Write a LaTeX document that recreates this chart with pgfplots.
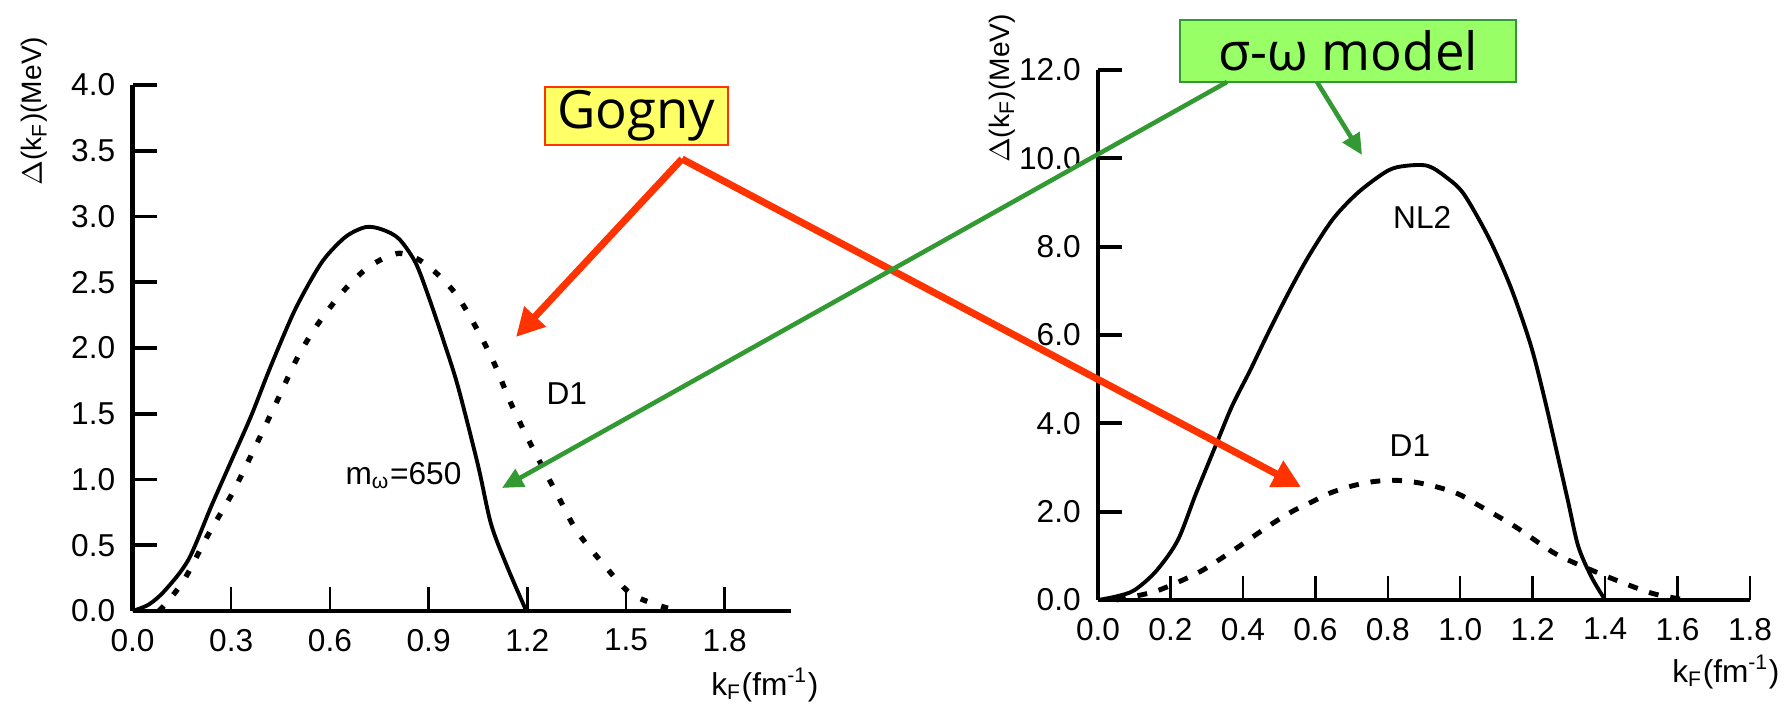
\documentclass[border=0pt]{standalone}
\usepackage{pgfplots}
\pgfplotsset{compat=1.18}
\usepackage{fontspec}
\setmainfont{Liberation Sans}
\newfontfamily\notefont{Open Sans}
\usetikzlibrary{arrows.meta}

\definecolor{arrowred}{RGB}{255,51,0}
\definecolor{boxyellow}{RGB}{255,255,102}
\definecolor{boxgreen}{RGB}{153,255,102}
\definecolor{linegreen}{RGB}{51,153,51}

\pgfplotsset{
  gapaxis/.style={
    scale only axis,
    axis x line=bottom, axis y line=left,
    axis line style={-, line width=1.3pt},
    tick align=inside,
    major tick length=2.4mm,
    xtick style={line width=0.7pt, black},
    ytick style={line width=1.1pt, black},
    ticklabel style={font=\fontsize{9}{10}\selectfont},
    /pgf/number format/fixed,
    /pgf/number format/fixed zerofill,
    /pgf/number format/precision=1,
    /pgf/number format/assume math mode=true,
    xticklabel style={yshift=-1.6pt},
    yticklabel style={xshift=-1.4pt},
    clip=false,
    ymin=0, xmin=0,
    ylabel style={font=\fontsize{8}{9}\selectfont, anchor=center},
    xlabel style={font=\fontsize{9}{10}\selectfont, anchor=center},
    ylabel={$\Delta$(k\textsubscript{F})(MeV)},
    xlabel={k\textsubscript{F}(fm\textsuperscript{-1})},
  },
  solidcurve/.style={black, line width=1.1pt, smooth},
  dotcurve/.style={black, line width=1.5pt, dash pattern=on 2pt off 4.2pt, smooth},
  dashcurve/.style={black, line width=1.4pt, dash pattern=on 2.8pt off 3.4pt, smooth},
}

% Gap curves, left panel (Gogny D1 vs. sigma-omega with m_omega = 650)
\pgfplotstableread{
k     gap
0.00  0.00
0.05  0.05
0.10  0.16
0.17  0.39
0.24  0.80
0.30  1.14
0.36  1.48
0.42  1.86
0.49  2.27
0.55  2.55
0.59  2.70
0.65  2.85
0.71  2.92
0.76  2.90
0.81  2.83
0.86  2.65
0.90  2.39
0.95  2.02
0.99  1.70
1.05  1.11
1.09  0.66
1.14  0.33
1.197 0.00
}\leftomega

\pgfplotstableread{
k     gap
0.08  0.00
0.11  0.08
0.16  0.25
0.23  0.58
0.30  0.88
0.36  1.18
0.44  1.60
0.50  1.92
0.56  2.17
0.64  2.43
0.72  2.62
0.81  2.72
0.89  2.64
0.98  2.42
1.05  2.13
1.10  1.88
1.15  1.58
1.21  1.27
1.29  0.89
1.35  0.61
1.43  0.36
1.51  0.14
1.59  0.05
1.66  0.00
}\leftgogny

% Gap curves, right panel (NL2 vs. Gogny D1)
\pgfplotstableread{
k     gap
0.00  0.00
0.05  0.08
0.10  0.22
0.16  0.65
0.22  1.35
0.27  2.40
0.33  3.60
0.37  4.39
0.42  5.20
0.47  6.05
0.53  7.02
0.585 7.83
0.65  8.64
0.72  9.24
0.80  9.72
0.85  9.83
0.91  9.83
0.96  9.58
1.01  9.19
1.08  8.18
1.14  7.07
1.195 5.76
1.233 4.55
1.27  3.23
1.298 2.22
1.326 1.21
1.363 0.51
1.40  0.00
}\rightnl

\pgfplotstableread{
k     gap
0.05  0.00
0.10  0.08
0.16  0.20
0.22  0.40
0.29  0.68
0.38  1.16
0.47  1.67
0.535 2.00
0.59  2.22
0.64  2.42
0.70  2.58
0.76  2.68
0.82  2.71
0.88  2.66
0.94  2.55
0.995 2.40
1.045 2.17
1.15  1.67
1.25  1.11
1.31  0.86
1.43  0.45
1.53  0.15
1.61  0.02
}\rightgogny

\begin{document}
\begin{tikzpicture}[x=1cm, y=1cm]
\useasboundingbox (0,0) rectangle (17.91,7.08);

% left panel
\begin{axis}[gapaxis,
  at={(1.325cm,0.97cm)}, anchor=south west,
  width=6.58cm, height=5.26cm,
  xmax=2.0, ymax=4.0,
  xtick={0,0.3,0.6,0.9,1.2,1.5,1.8},
  ytick={0,0.5,1,1.5,2,2.5,3,3.5,4},
  xlabel style={at={(axis description cs:0.961,0)}, yshift=-7.4mm},
  % the label is turned by 90 degrees, so its own y direction points left
  ylabel style={at={(axis description cs:0,0.95)}, yshift=9.8mm},
]
\addplot[solidcurve] table[x=k, y=gap] {\leftomega};
\addplot[dotcurve] table[x=k, y=gap] {\leftgogny};
\node[font=\fontsize{9}{10}\selectfont] at (axis cs:1.32,1.65) {D1};
\node[font=\fontsize{9}{10}\selectfont, anchor=base west] at (axis cs:0.61,0.96) {m\textsubscript{ω}=650};
\end{axis}

% right panel
\begin{axis}[gapaxis,
  at={(10.98cm,1.08cm)}, anchor=south west,
  width=6.52cm, height=5.30cm,
  xmax=1.8, ymax=12,
  xtick={0,0.2,0.4,0.6,0.8,1.0,1.2,1.4,1.6,1.8},
  ytick={0,2,4,6,8,10,12},
  xlabel style={at={(axis description cs:0.963,0)}, yshift=-7.2mm},
  ylabel style={at={(axis description cs:0,0.965)}, yshift=9.6mm},
]
\addplot[solidcurve] table[x=k, y=gap] {\rightnl};
\addplot[dashcurve] table[x=k, y=gap] {\rightgogny};
\node[font=\fontsize{9}{10}\selectfont] at (axis cs:0.895,8.65) {NL2};
\node[font=\fontsize{9}{10}\selectfont] at (axis cs:0.861,3.49) {D1};
\end{axis}

% model annotations
\node[draw=arrowred, line width=0.6pt, fill=boxyellow, minimum width=1.83cm,
      minimum height=0.58cm, inner sep=0pt,
      font=\notefont\fontsize{15}{16}\selectfont] at (6.365,5.92) {Gogny};
\node[draw=linegreen, line width=0.7pt, fill=boxgreen, minimum width=3.36cm,
      minimum height=0.62cm, inner sep=0pt,
      font=\notefont\fontsize{15}{16}\selectfont] at (13.48,6.57) {σ-ω model};

\draw[arrowred, line width=2pt, -{Triangle[length=8pt,width=8pt]}] (6.82,5.49) -- (5.16,3.71);
\draw[arrowred, line width=2pt, -{Triangle[length=8pt,width=8pt]}] (6.82,5.49) -- (13.01,2.21);
\draw[linegreen, line width=1.3pt, -{Triangle[length=6pt,width=5.5pt]}] (12.27,6.26) -- (5.02,2.20);
\draw[linegreen, line width=1.3pt, -{Triangle[length=6pt,width=5.5pt]}] (13.17,6.26) -- (13.62,5.53);
\end{tikzpicture}
\end{document}
